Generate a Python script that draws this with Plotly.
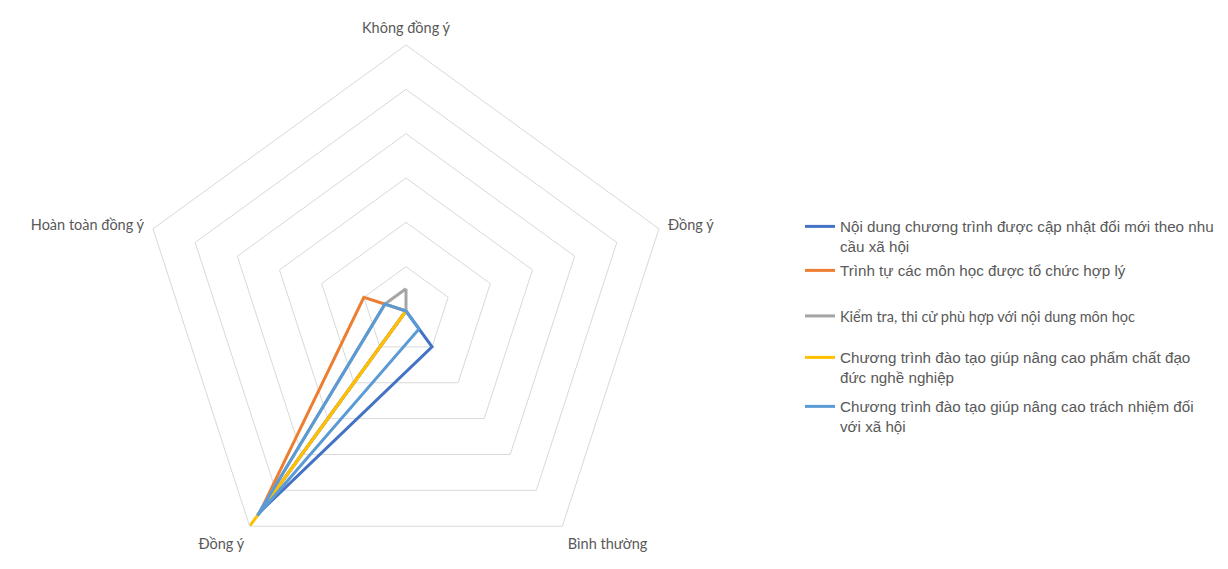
import plotly.graph_objects as go

# ---- data ----
categories = ["Không đồng ý", "Đồng ý", "Bình thường", "Đồng ý", "Hoàn toàn đồng ý"]
category_keys = ["c1", "c2", "c3", "c4", "c5"]  # unique keys ("Đồng ý" appears twice)

series_names = [
    "Nội dung chương trình được cập nhật đổi mới theo nhu<br>cầu xã hội",
    "Trình tự các môn học được tổ chức hợp lý",
    "Kiểm tra, thi cử phù hợp với nội dung môn học",
    "Chương trình đào tạo giúp nâng cao phẩm chất đạo<br>đức nghề nghiệp",
    "Chương trình đào tạo giúp nâng cao trách nhiệm đối<br>với xã hội",
]
noi_dung = [0, 0, 10, 56, 0]
trinh_tu = [0, 0, 0, 56, 10]
kiem_tra = [5, 0, 0, 57, 5]
pham_chat = [0, 0, 0, 60, 0]
trach_nhiem = [0, 0, 5, 57, 5]
series_values = [noi_dung, trinh_tu, kiem_tra, pham_chat, trach_nhiem]

colors = ["#4472C4", "#ED7D31", "#A5A5A5", "#FFC000", "#5B9BD5"]

# ---- layout parameters ----
W, H = 1228, 569
R = 266
CX = 398
legend_tops = [202, 246, 292, 333, 382]  # px from top
arial = "Liberation Sans, Arial, sans-serif"
calibri_like = "Lato, Calibri, sans-serif"
legend_fonts = [
    dict(family=arial, size=15.2, color="#595959"),
    dict(family=arial, size=15.2, color="#595959"),
    dict(family=calibri_like, size=14.5, color="#595959"),
    dict(family=arial, size=15.2, color="#595959"),
    dict(family=arial, size=15.2, color="#595959"),
]

fig = go.Figure()
legend_ids = ["legend", "legend2", "legend3", "legend4", "legend5"]
for name, vals, col, lid in zip(series_names, series_values, colors, legend_ids):
    fig.add_trace(go.Scatterpolar(
        r=vals + vals[:1],
        theta=category_keys + category_keys[:1],
        mode="lines",
        name=name,
        line=dict(color=col, width=3),
        legend=lid,
        hoverinfo="skip",
    ))

layout_legends = {}
for lid, top, font in zip(legend_ids, legend_tops, legend_fonts):
    layout_legends[lid] = dict(
        x=792 / W, y=1 - top / H, xanchor="left", yanchor="top",
        bgcolor="rgba(0,0,0,0)", font=font, valign="top",
        itemclick=False, itemdoubleclick=False,
    )

fig.update_layout(
    width=W, height=H,
    margin=dict(l=0, r=0, t=0, b=0),
    paper_bgcolor="white",
    plot_bgcolor="white",
    showlegend=True,
    polar=dict(
        domain=dict(x=[(CX - R) / W, (CX + R) / W], y=[0, 2 * R / H]),
        gridshape="linear",
        bgcolor="white",
        radialaxis=dict(
            range=[0, 60], dtick=10, tick0=0,
            showticklabels=False, ticks="", showline=False,
            gridcolor="#D9D9D9", gridwidth=1,
        ),
        angularaxis=dict(
            type="category",
            categoryorder="array", categoryarray=category_keys,
            tickmode="array", tickvals=category_keys, ticktext=categories,
            direction="clockwise", rotation=90,
            showgrid=False, ticks="outside", ticklen=6,
            tickcolor="rgba(0,0,0,0)",
            showline=True, linecolor="#D9D9D9", linewidth=1,
            tickfont=dict(family=calibri_like, size=14.5, color="#595959"),
        ),
    ),
    **layout_legends,
)

fig.write_html("out.html")
